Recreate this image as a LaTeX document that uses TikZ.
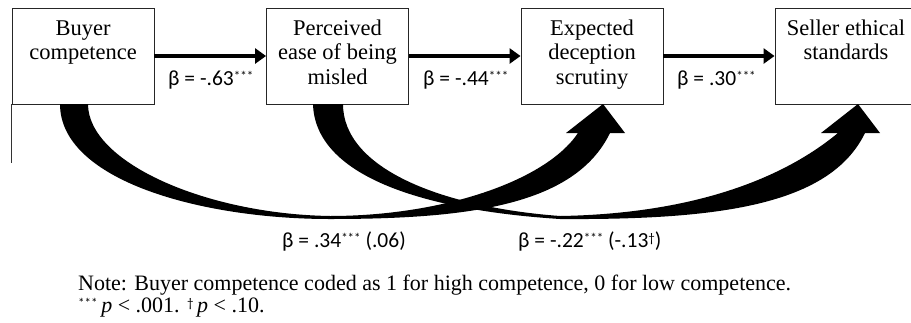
\documentclass[tikz,border=0pt]{standalone}
\usepackage{fontspec}
\setmainfont{Liberation Serif}
\newfontfamily\labfont{Carlito}
\usetikzlibrary{arrows.meta}
\newcommand{\stars}{\raisebox{4.5pt}{\fontsize{13}{13}\selectfont ***}}
\newcommand{\dagg}{\raisebox{4.5pt}{\fontsize{13}{13}\selectfont †}}
\begin{document}
\begin{tikzpicture}[x=1pt,y=-1pt,
  box/.style={draw=black!85, line width=0.9pt, minimum width=142pt, minimum height=96pt, inner sep=0pt},
  boxtext/.style={anchor=north, align=center, font=\fontsize{22.5}{24.8}\selectfont, inner sep=0pt},
  harrow/.style={line width=4.5pt, -{Triangle[length=11pt,width=15pt]}},
  betalab/.style={font=\labfont\fontsize{21.5}{24}\selectfont, inner sep=0pt, anchor=base west},
  notetext/.style={font=\fontsize{22}{24}\selectfont, inner sep=0pt, anchor=base west},
  ]
\clip (0,0) rectangle (911,322);
\fill[white] (0,0) rectangle (911,322);
% boxes
\node[box] (b1) at (83,56) {};
\node[box] (b2) at (337.5,56) {};
\node[box] (b3) at (592,56) {};
\node[box] (b4) at (846,56) {};
\node[boxtext] (t1) at (83,17.6) {\strut Buyer\\competence};
\node[boxtext] (t2) at (337.5,17.6) {\strut Perceived\\ease of being\\misled};
\node[boxtext] (t3) at (592,17.6) {\strut Expected\\deception\\scrutiny};
\node[boxtext] (t4) at (846,17.6) {\strut Seller ethical\\standards};
% thin line
\draw[line width=1pt, black!80] (b1.south west) -- ++(0,59);
% horizontal arrows
\draw[harrow] (b1.east) -- (b2.west);
\draw[harrow] (b2.east) -- (b3.west);
\draw[harrow] (b3.east) -- (b4.west);
\node[betalab] (l1) at (168,85) {β = -.63\stars};
\node[betalab] (l2) at (423,85) {β = -.44\stars};
\node[betalab] (l3) at (677,85) {β = .30\stars};
% curved arrows
\fill (60,104) .. controls (60,180) and (200,219) .. (330,219)
  .. controls (470,219) and (575,205) .. (610,133)
  -- (625,133) -- (603,104) -- (566,133) -- (578,133)
  .. controls (545,182) and (440,216) .. (330,216)
  .. controls (205,214) and (88,162) .. (88,104) -- cycle;
\fill (313,104) .. controls (315,175) and (420,210) .. (560,219)
  .. controls (720,220) and (830,205) .. (865,133)
  -- (880,133) -- (858,104) -- (821,133) -- (838,133)
  .. controls (775,185) and (680,214) .. (560,216)
  .. controls (440,207) and (343,168) .. (343,104) -- cycle;
\node[betalab] (l4) at (282,247) {β = .34\stars\ (.06)};
\node[betalab] (l5) at (518,247) {β = -.22\stars\ (-.13\dagg)};
% note
\node[notetext] (n1) at (78,290) {Note: Buyer competence coded as 1 for high competence, 0 for low competence.};
\node[notetext] (n2) at (78,312) {{\labfont\stars}\,\textit{p} < .001. {\labfont\dagg}\,\textit{p} < .10.};
\end{tikzpicture}
\end{document}
